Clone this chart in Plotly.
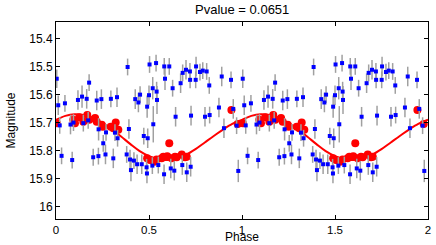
import plotly.graph_objects as go

# One cycle of the folded light curve (plotted twice: phase and phase+1)
phase = [0.004, 0.012, 0.020, 0.030, 0.048, 0.078, 0.087, 0.094, 0.118, 0.140,
         0.147, 0.165, 0.173, 0.178, 0.200, 0.219, 0.228, 0.229, 0.244, 0.254,
         0.266, 0.269, 0.295, 0.308, 0.317, 0.328, 0.331, 0.380, 0.385, 0.392,
         0.398, 0.403, 0.419, 0.426, 0.436, 0.443, 0.452, 0.461, 0.472, 0.487,
         0.489, 0.490, 0.493, 0.500, 0.503, 0.518, 0.520, 0.523, 0.538, 0.541,
         0.543, 0.550, 0.581, 0.582, 0.586, 0.609, 0.617, 0.627, 0.636, 0.643,
         0.670, 0.679, 0.681, 0.699, 0.703, 0.720, 0.721, 0.724, 0.726, 0.751,
         0.753, 0.774, 0.789, 0.801, 0.810, 0.824, 0.826, 0.876, 0.891, 0.903,
         0.941, 0.953, 0.971, 0.980]
mag = [15.543, 15.638, 15.710, 15.819, 15.631, 15.707, 15.834, 15.700, 15.619, 15.607,
       15.702, 15.615, 15.692, 15.557, 15.824, 15.621, 15.820, 15.724, 15.616, 15.774,
       15.814, 15.735, 15.615, 15.828, 15.736, 15.609, 15.756, 15.814, 15.501, 15.723,
       15.832, 15.870, 15.836, 15.616, 15.849, 15.628, 15.600, 15.849, 15.748, 15.860,
       15.882, 15.643, 15.756, 15.602, 15.492, 15.854, 15.577, 15.706, 15.487, 15.589,
       15.619, 15.852, 15.885, 15.499, 15.543, 15.499, 15.864, 15.577, 15.872, 15.679,
       15.559, 15.852, 15.522, 15.511, 15.878, 15.517, 15.547, 15.858, 15.675, 15.547,
       15.499, 15.519, 15.514, 15.679, 15.517, 15.567, 15.673, 15.646, 15.535, 15.720,
       15.547, 15.651, 15.711, 15.873]
err = [0.033, 0.035, 0.03, 0.03, 0.03, 0.035, 0.03, 0.03, 0.035, 0.04,
       0.03, 0.035, 0.03, 0.03, 0.03, 0.035, 0.03, 0.04, 0.035, 0.03,
       0.035, 0.03, 0.03, 0.035, 0.03, 0.035, 0.03, 0.03, 0.03, 0.035,
       0.035, 0.04, 0.03, 0.035, 0.035, 0.035, 0.03, 0.035, 0.03, 0.03,
       0.035, 0.04, 0.035, 0.035, 0.03, 0.03, 0.04, 0.065, 0.03, 0.035,
       0.05, 0.03, 0.035, 0.03, 0.04, 0.03, 0.035, 0.03, 0.035, 0.035,
       0.035, 0.035, 0.03, 0.035, 0.035, 0.03, 0.03, 0.035, 0.035, 0.03,
       0.035, 0.03, 0.03, 0.035, 0.03, 0.03, 0.03, 0.035, 0.035, 0.035,
       0.03, 0.035, 0.03, 0.04]

red_phase = [0.004, 0.093, 0.102, 0.125, 0.147, 0.168, 0.179, 0.210, 0.219, 0.246,
             0.251, 0.294, 0.308, 0.321, 0.335, 0.490, 0.505, 0.527, 0.541, 0.568,
             0.577, 0.598, 0.609, 0.622, 0.640, 0.649, 0.676, 0.694, 0.703, 0.943,
             0.977]
red_mag = [15.702, 15.690, 15.702, 15.681, 15.697, 15.673, 15.690, 15.684, 15.697, 15.708,
           15.715, 15.715, 15.720, 15.700, 15.726, 15.828, 15.834, 15.840, 15.832, 15.828,
           15.822, 15.820, 15.774, 15.828, 15.822, 15.824, 15.814, 15.824, 15.822, 15.655,
           15.705]

curve_phase = [0.00, 0.05, 0.10, 0.15, 0.20, 0.25, 0.30, 0.35, 0.40, 0.45, 0.50,
               0.55, 0.60, 0.65, 0.70, 0.75, 0.80, 0.85, 0.90, 0.95]
curve_mag = [15.690, 15.676, 15.670, 15.673, 15.684, 15.702, 15.724, 15.750, 15.777, 15.802,
             15.820, 15.831, 15.834, 15.828, 15.815, 15.795, 15.771, 15.747, 15.724, 15.704]

title_text = "Pvalue = 0.0651"
x_ticks = [0, 0.5, 1, 1.5, 2]
x_tick_labels = ["0", "0.5", "1", "1.5", "2"]
y_ticks = [15.4, 15.5, 15.6, 15.7, 15.8, 15.9, 16.0]
y_tick_labels = ["15.4", "15.5", "15.6", "15.7", "15.8", "15.9", "16"]

# fold twice
px = phase + [p + 1 for p in phase]
py = mag + mag
pe = err + err
rx = red_phase + [p + 1 for p in red_phase]
ry = red_mag + red_mag
cx = curve_phase + [p + 1 for p in curve_phase] + [2.0]
cy = curve_mag + curve_mag + [curve_mag[0]]

font_family = "Liberation Sans, Arial, Helvetica, sans-serif"

fig = go.Figure()
fig.add_trace(go.Scatter(x=cx, y=cy, mode="lines", line=dict(color="#ff0000", width=2, shape="spline"),
                         hoverinfo="skip", showlegend=False))
fig.add_trace(go.Scatter(x=rx, y=ry, mode="markers",
                         marker=dict(color="#ff0000", size=8, line=dict(width=0)),
                         showlegend=False))
fig.add_trace(go.Scatter(x=px, y=py, mode="markers",
                         marker=dict(color="#0000ff", size=4, symbol="square", line=dict(width=0)),
                         error_y=dict(type="data", array=pe, visible=True, color="#a0a0a0",
                                      thickness=1.5, width=0),
                         showlegend=False))

axis_common = dict(showline=True, linecolor="black", linewidth=1, mirror="ticks",
                   ticks="inside", ticklen=4, tickcolor="black", showgrid=False, zeroline=False)

fig.update_layout(
    width=436, height=245,
    margin=dict(l=56, r=8, t=22, b=26, autoexpand=False),
    paper_bgcolor="white", plot_bgcolor="white",
    xaxis=dict(range=[0, 2], tickvals=x_ticks, ticktext=x_tick_labels,
               tickfont=dict(family=font_family, size=11.5, color="black"), **axis_common),
    yaxis=dict(range=[16.045, 15.34], tickvals=y_ticks, ticktext=y_tick_labels,
               tickfont=dict(family=font_family, size=12, color="black"), **axis_common),
    annotations=[
        dict(text=title_text, x=0.5, y=1, xref="paper", yref="paper", xanchor="center",
             yanchor="bottom", yshift=3, showarrow=False,
             font=dict(family=font_family, size=13, color="black")),
        dict(text="Phase", x=0.5, y=0, xref="paper", yref="paper", xanchor="center",
             yanchor="bottom", yshift=-26, borderpad=0, showarrow=False,
             font=dict(family=font_family, size=12, color="black")),
        dict(text="Magnitude", x=0, y=0.5, xref="paper", yref="paper", xanchor="right",
             yanchor="middle", xshift=-37, showarrow=False, textangle=-90,
             font=dict(family=font_family, size=12, color="black")),
    ],
)

fig.write_html("out.html", config={"displayModeBar": False},
               post_script="document.body.style.margin='0';document.body.style.overflow='hidden';")
